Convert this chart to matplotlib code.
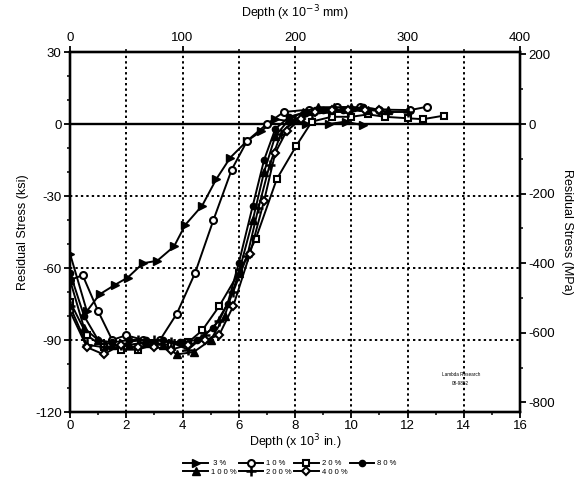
import matplotlib.pyplot as plt
from matplotlib.ticker import MultipleLocator

plt.rcParams['font.family'] = ['Liberation Sans', 'DejaVu Sans']
plt.rcParams['axes.unicode_minus'] = False

# --- datos (profundidad en 10^-3 in, esfuerzo en ksi) ---
x_3 = [0, 0.6, 1.05, 1.6, 2.05, 2.6, 3.1, 3.7, 4.1, 4.7, 5.2, 5.7, 6.3, 6.8, 7.3, 7.9, 8.4, 9.2, 9.8, 10.4]
y_3 = [-54, -78, -71, -67, -64, -58, -57, -51, -42, -34, -23, -14, -7, -3, 2, 1, 0, 0, 1, -0.5]

x_10 = [0, 0.45, 1.0, 1.5, 2.0, 2.6, 3.2, 3.8, 4.45, 5.1, 5.75, 6.3, 7.0, 7.6, 8.5, 9.5, 10.3, 11.0, 12.1, 12.7]
y_10 = [-65, -63, -78, -90, -88, -90, -90, -79, -62, -40, -19, -7, 0, 5, 6, 7, 7, 6, 5.8, 7.2]

x_20 = [0, 0.6, 1.2, 1.8, 2.4, 3.0, 3.6, 4.2, 4.7, 5.3, 6.0, 6.6, 7.35, 8.05, 8.6, 9.3, 10.0, 10.6, 11.2, 12.0, 12.55, 13.3]
y_20 = [-74, -88, -93, -94, -94, -92, -92, -91, -86, -76, -62, -48, -23, -9, 1, 3, 3, 4, 3, 2.4, 2, 3.5]

x_80 = [0, 0.5, 1.0, 1.5, 2.1, 2.7, 3.3, 3.9, 4.5, 5.1, 5.6, 6.0, 6.5, 6.9, 7.3, 7.8, 8.4, 9.0, 9.7, 10.4, 11.0]
y_80 = [-62, -80, -90, -91, -90, -90, -90, -91, -90, -85, -75, -58, -34, -15, -2, 3, 5, 6, 6, 7, 6]

x_100 = [0, 0.5, 1.0, 1.5, 2.1, 2.7, 3.3, 3.8, 4.4, 5.0, 5.5, 6.0, 6.5, 6.9, 7.3, 7.8, 8.3, 8.8, 9.4, 10.0, 10.6, 11.3]
y_100 = [-65, -85, -90, -92, -92, -91, -92, -96, -95, -90, -80, -62, -40, -20, -5, 2, 5, 7, 7, 7, 6, 6]

x_200 = [0, 0.6, 1.2, 1.8, 2.4, 3.0, 3.6, 4.2, 4.8, 5.3, 5.8, 6.3, 6.7, 7.1, 7.5, 8.0, 8.6, 9.2, 9.9, 10.5, 11.3, 12.0]
y_200 = [-76, -92, -93, -92, -90, -90, -91, -94, -88, -82, -70, -55, -35, -17, -4, 2, 4, 5, 5, 6, 5, 5]

x_400 = [0, 0.6, 1.2, 1.8, 2.4, 3.0, 3.6, 4.2, 4.8, 5.3, 5.8, 6.4, 6.9, 7.3, 7.7, 8.2, 8.7, 9.3, 9.9, 10.5, 11.0]
y_400 = [-78, -93, -96, -92, -93, -93, -94, -92, -90, -88, -76, -54, -32, -12, -3, 2, 5, 6, 6, 6, 6]

KSI_A_MPA = 6.895

# --- figura ---
fig = plt.figure(figsize=(5.8, 4.98), dpi=100)
ax = fig.add_axes([70/580, 1 - 412/498, 450/580, 360/498])

estilo = dict(color='black', lw=1.4)
l3, = ax.plot(x_3, y_3, marker='>', ms=5.5, mfc='black', mec='black', label=' 3 %', **estilo)
l10, = ax.plot(x_10, y_10, marker='o', ms=5, mfc='white', mec='black', mew=1.5, label='1 0 %', **estilo)
l20, = ax.plot(x_20, y_20, marker='s', ms=5, mfc='white', mec='black', mew=1.5, label='2 0 %', **estilo)
l80, = ax.plot(x_80, y_80, marker='o', ms=4.5, mfc='black', mec='black', label='8 0 %', **estilo)
l100, = ax.plot(x_100, y_100, marker='^', ms=5.5, mfc='black', mec='black', label='1 0 0 %', **estilo)
l200, = ax.plot(x_200, y_200, marker='+', ms=7, mec='black', mew=1.8, label='2 0 0 %', **estilo)
l400, = ax.plot(x_400, y_400, marker='D', ms=4.5, mfc='white', mec='black', mew=1.5, label='4 0 0 %', **estilo)

ax.set_xlim(0, 16)
ax.set_ylim(-120, 30)
ax.xaxis.set_major_locator(MultipleLocator(2))
ax.xaxis.set_minor_locator(MultipleLocator(1))
ax.yaxis.set_major_locator(MultipleLocator(30))
ax.yaxis.set_minor_locator(MultipleLocator(10))

# rejilla punteada
for gx in range(2, 16, 2):
    ax.axvline(gx, color='black', ls=(0, (1.2, 1.6)), lw=1.4, zorder=0)
for gy in (-30, -60, -90):
    ax.axhline(gy, color='black', ls=(0, (1.2, 1.6)), lw=1.4, zorder=0)
ax.axhline(0, color='black', lw=1.7, zorder=1)

ax.set_xlabel('Depth (x 10$^{3}$ in.)', fontsize=9, labelpad=0)
ax.set_ylabel('Residual Stress (ksi)', fontsize=9, labelpad=4)

ax_top = ax.twiny()
ax_top.set_xlim(0, 400)
ax_top.xaxis.set_major_locator(MultipleLocator(100))
ax_top.xaxis.set_minor_locator(MultipleLocator(50))
ax_top.set_xlabel('Depth (x 10$^{-3}$ mm)', fontsize=9, labelpad=10)

ax_right = ax.twinx()
ax_right.set_ylim(-120 * KSI_A_MPA, 30 * KSI_A_MPA)
ax_right.yaxis.set_major_locator(MultipleLocator(200))
ax_right.yaxis.set_minor_locator(MultipleLocator(100))
ax_right.set_ylabel('Residual Stress (MPa)', fontsize=9, rotation=-90, labelpad=13)

for a in (ax, ax_top, ax_right):
    for s in a.spines.values():
        s.set_linewidth(1.6)
    a.tick_params(which='major', direction='out', length=4, width=1.3, labelsize=9.5, pad=2)
    a.tick_params(which='minor', direction='out', length=2.5, width=1.1)

ax.text(13.9, -104.5, 'Lambda Research', fontsize=3.3, ha='center', va='center')
ax.text(13.9, -108, '08-9852', fontsize=3.3, ha='center', va='center')

# leyenda (orden por filas)
manejadores = [l3, l100, l10, l200, l20, l400, l80]
fig.legend(handles=manejadores, labels=[h.get_label() for h in manejadores],
           loc='center', bbox_to_anchor=(0.5, 1 - 468/498), ncol=4, fontsize=5.5,
           frameon=False, handlelength=3.2, handletextpad=0.4, columnspacing=0.3,
           labelspacing=0.2)

fig.savefig('out.png', dpi=100)
